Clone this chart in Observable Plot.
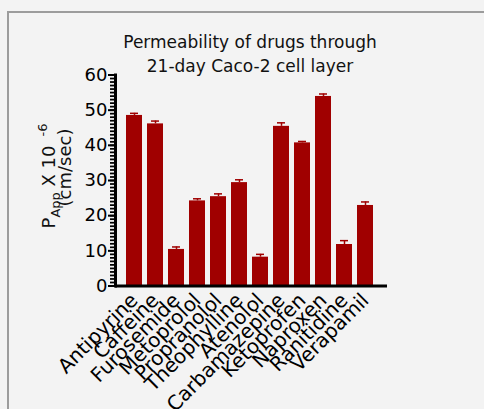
<!DOCTYPE html>
<html>
<head>
<meta charset="utf-8">
<script src="https://cdn.jsdelivr.net/npm/d3@7"></script>
<script src="https://cdn.jsdelivr.net/npm/@observablehq/plot@0.6"></script>
<style>
  html, body { margin: 0; padding: 0; background: #f3f3f3; }
  #chart svg { display: block; }
</style>
</head>
<body>
<div id="chart"></div>
<script>
const drugs = ["Antipyrine", "Caffeine", "Furosemide", "Metoprolol", "Propranolol", "Theophylline",
  "Atenolol", "Carbamazepine", "Ketoprofen", "Naproxen", "Ranitidine", "Verapamil"];
const papp = [48.5, 46.1, 10.4, 24.2, 25.4, 29.4, 8.2, 45.4, 40.7, 53.9, 11.8, 22.9];
const sem = [0.6, 0.8, 0.7, 0.6, 0.8, 0.8, 0.8, 1.0, 0.4, 0.7, 1.1, 1.0];
const yTicks = [0, 10, 20, 30, 40, 50, 60];
const minorTicks = d3.range(0, 61, 1);
const titleLines = ["Permeability of drugs through", "21-day Caco-2 cell layer"];
const yLabelLine2 = "(cm/sec)";

const data = drugs.map((d, i) => ({drug: d, value: papp[i], err: sem[i]}));
const red = "#a00000";

const chart = Plot.plot({
  width: 484,
  height: 409,
  marginLeft: 115,
  marginRight: 97,
  marginTop: 74.5,
  marginBottom: 123.5,
  style: {background: "#f3f3f3", fontFamily: "DejaVu Sans", color: "#000", overflow: "visible"},
  x: {domain: drugs, paddingInner: 0.26, paddingOuter: 0.4, align: 0.44, label: null},
  y: {domain: [0, 60], label: null},
  marks: [
    Plot.barY(data, {x: "drug", y: "value", fill: red}),
    Plot.ruleX(data, {x: "drug", y1: "value", y2: d => d.value + d.err, stroke: red, strokeWidth: 1.5}),
    Plot.tickY(data, {x: "drug", y: d => d.value + d.err, stroke: red, strokeWidth: 1.5, insetLeft: 4, insetRight: 4}),
    Plot.axisY({ticks: minorTicks, tickSize: 5, tickFormat: () => "", strokeWidth: 1.75, label: null}),
    Plot.axisY({ticks: yTicks, tickSize: 7, tickPadding: 1, fontSize: 18, strokeWidth: 2, label: null}),
    Plot.axisX({tickRotate: -45, tickSize: 0, tickPadding: 11, fontSize: 20, label: null}),
    Plot.ruleY([0], {strokeWidth: 3}),
    Plot.frame({anchor: "left", strokeWidth: 3})
  ]
});

document.getElementById("chart").appendChild(chart);

const svg = d3.select(chart);
// outer panel border
svg.insert("rect", ":first-child")
  .attr("x", 8).attr("y", 12).attr("width", 700).attr("height", 700)
  .attr("fill", "none").attr("stroke", "#9c9c9c").attr("stroke-width", 2);

// title
const t = svg.append("g").attr("font-family", "DejaVu Sans").attr("font-size", 17)
  .attr("text-anchor", "middle").attr("fill", "#111");
titleLines.forEach((line, i) => {
  t.append("text").attr("x", 250).attr("y", 48 + i * 24).text(line);
});

// y label
const yl = svg.append("g").attr("font-family", "DejaVu Sans").attr("fill", "#111");
const l1 = yl.append("text").attr("transform", "translate(55,176) rotate(-90)")
  .attr("text-anchor", "middle").attr("font-size", 18);
l1.append("tspan").text("P");
l1.append("tspan").attr("font-size", 13).attr("dy", 5).text("App");
l1.append("tspan").attr("dy", -5).text(" X 10");
l1.append("tspan").attr("font-size", 13).attr("dy", -8).attr("dx", 9).text("-6");
yl.append("text").attr("transform", "translate(71,167.5) rotate(-90)")
  .attr("text-anchor", "middle").attr("font-size", 18).text(yLabelLine2);
</script>
</body>
</html>
